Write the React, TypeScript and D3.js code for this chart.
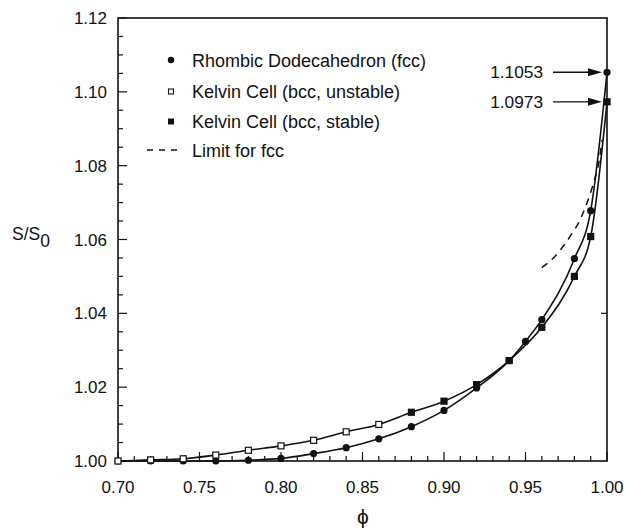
import React from "react";
import * as d3 from "d3";

const phiRD = [0.70, 0.72, 0.74, 0.76, 0.78, 0.80, 0.82, 0.84, 0.86, 0.88, 0.90, 0.92, 0.94, 0.95, 0.96, 0.98, 0.99, 1.00];
const sRD = [1.0, 1.0, 1.0, 1.0, 1.0002, 1.0007, 1.002, 1.0036, 1.006, 1.0093, 1.0137, 1.0198, 1.0272, 1.0324, 1.0383, 1.0548, 1.0678, 1.1053];

const phiKU = [0.70, 0.72, 0.74, 0.76, 0.78, 0.80, 0.82, 0.84, 0.86];
const sKU = [1.0, 1.0003, 1.0006, 1.0016, 1.0029, 1.0041, 1.0056, 1.0079, 1.0099];

const phiKS = [0.88, 0.90, 0.92, 0.94, 0.96, 0.98, 0.99, 1.00];
const sKS = [1.0132, 1.0162, 1.0207, 1.0272, 1.0362, 1.05, 1.0608, 1.0973];

const phiLim = [0.96, 0.968, 0.973, 0.978, 0.983, 0.9865, 0.9895, 0.992, 0.9947, 0.997];
const sLim = [1.0524, 1.0554, 1.0581, 1.0613, 1.0649, 1.0685, 1.0721, 1.0757, 1.0802, 1.087];

const xTicks = [0.70, 0.75, 0.80, 0.85, 0.90, 0.95, 1.00];
const yTicks = [1.00, 1.02, 1.04, 1.06, 1.08, 1.10, 1.12];
const legendLabels = ["Rhombic Dodecahedron (fcc)", "Kelvin Cell (bcc, unstable)", "Kelvin Cell (bcc, stable)", "Limit for fcc"];
const annotations = [1.1053, 1.0973];

export default function App() {
  const W = 627, H = 529;
  const L = 118, R = 607, T = 18, B = 461;
  const x = d3.scaleLinear().domain([0.7, 1.0]).range([L, R]);
  const y = d3.scaleLinear().domain([1.0, 1.12]).range([B, T]);
  const font = "'Liberation Sans', Arial, Helvetica, sans-serif";

  const line = d3.line<[number, number]>().x(d => x(d[0])).y(d => y(d[1])).curve(d3.curveMonotoneX);
  const rdPts: [number, number][] = phiRD.map((p, i) => [p, sRD[i]]);
  const kPts: [number, number][] = [...phiKU.map((p, i) => [p, sKU[i]] as [number, number]), ...phiKS.map((p, i) => [p, sKS[i]] as [number, number])];
  const limPts: [number, number][] = phiLim.map((p, i) => [p, sLim[i]]);

  const xMinor = d3.range(0, 31).map(i => 0.7 + i * 0.01);
  const yMinor = d3.range(0, 25).map(i => 1.0 + i * 0.005);

  return (
    <svg width={W} height={H} style={{ position: "absolute", left: 0, top: 0, background: "#fff" }} fontFamily={font}>
      <rect x={0} y={0} width={W} height={H} fill="#fff" />
      <rect x={L} y={T} width={R - L} height={B - T} fill="none" stroke="#111" strokeWidth={1.6} />
      {xMinor.map((v, i) => (
        <line key={"xm" + i} x1={x(v)} x2={x(v)} y1={B} y2={B - (i % 5 === 0 ? 9 : 5)} stroke="#111" strokeWidth={1.2} />
      ))}
      {yMinor.map((v, i) => (
        <line key={"ym" + i} x1={L} x2={L + (i % 4 === 0 ? 9 : 5)} y1={y(v)} y2={y(v)} stroke="#111" strokeWidth={1.2} />
      ))}
      <line x1={R} x2={R - 6} y1={y(1.04)} y2={y(1.04)} stroke="#111" strokeWidth={1.2} />
      {xTicks.map(v => (
        <text key={"xt" + v} x={x(v)} y={493} fontSize={17} textAnchor="middle" fill="#111">{v.toFixed(2)}</text>
      ))}
      {yTicks.map(v => (
        <text key={"yt" + v} x={107} y={y(v) + 6} fontSize={17} textAnchor="end" fill="#111">{v.toFixed(2)}</text>
      ))}
      <text x={12} y={240} fontSize={17.5} fill="#111">S/S<tspan dy={7} fontSize={17.5}>0</tspan></text>
      <text x={363} y={524} fontSize={21} textAnchor="middle" fill="#111">ϕ</text>

      <path d={line(rdPts) || ""} fill="none" stroke="#111" strokeWidth={1.6} />
      <path d={line(kPts) || ""} fill="none" stroke="#111" strokeWidth={1.6} />
      <path d={line(limPts) || ""} fill="none" stroke="#111" strokeWidth={1.5} strokeDasharray="7,6" />

      {rdPts.map((d, i) => (
        <circle key={"c" + i} cx={x(d[0])} cy={y(d[1])} r={3.6} fill="#111" />
      ))}
      {phiKU.map((p, i) => (
        <rect key={"u" + i} x={x(p) - 3} y={y(sKU[i]) - 3} width={6} height={6} fill="#fff" stroke="#111" strokeWidth={1.2} />
      ))}
      {phiKS.map((p, i) => (
        <rect key={"s" + i} x={x(p) - 3.6} y={y(sKS[i]) - 3.6} width={7.2} height={7.2} fill="#111" />
      ))}

      <circle cx={171} cy={60} r={3.2} fill="#111" />
      <rect x={168.5} y={89} width={5} height={5} fill="#fff" stroke="#111" strokeWidth={1.1} />
      <rect x={168} y={118.5} width={6} height={6} fill="#111" />
      <line x1={147} x2={178} y1={150} y2={150} stroke="#111" strokeWidth={1.3} strokeDasharray="6,6" />
      {legendLabels.map((t, i) => (
        <text key={"lg" + i} x={192} y={[66.5, 97.5, 127.5, 156.5][i]} fontSize={18} fill="#111">{t}</text>
      ))}

      {annotations.map((v, i) => (
        <g key={"an" + i}>
          <text x={543} y={y(v) + 6} fontSize={17.3} textAnchor="end" fill="#111">{v.toFixed(4)}</text>
          <line x1={553} x2={590} y1={y(v)} y2={y(v)} stroke="#111" strokeWidth={1.3} />
          <path d={`M${x(1.0) - 5},${y(v)} L${x(1.0) - 19},${y(v) - 4} L${x(1.0) - 19},${y(v) + 4} Z`} fill="#111" />
        </g>
      ))}
    </svg>
  );
}
